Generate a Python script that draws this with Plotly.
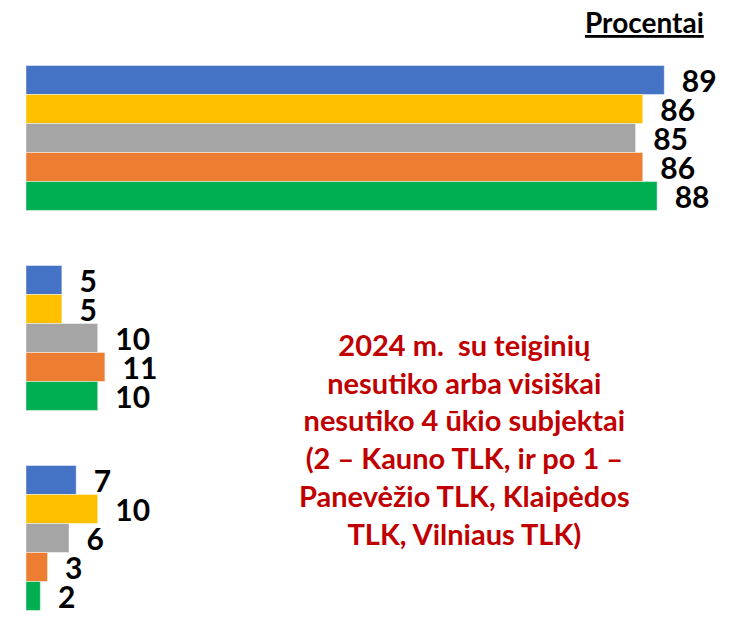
import plotly.graph_objects as go

categories = ["Sutiko / visiškai sutiko", "Nei sutiko, nei nesutiko", "Nesutiko / visiškai nesutiko"]
series_names = ["2020 m.", "2021 m.", "2022 m.", "2023 m.", "2024 m."]
series_values = [
    [89, 5, 7],
    [86, 5, 10],
    [85, 10, 6],
    [86, 11, 3],
    [88, 10, 2],
]
colors = ["#4472C4", "#FFC000", "#A5A5A5", "#ED7D31", "#00B050"]
note_lines = [
    "2024 m.  su teiginių",
    "nesutiko arba visiškai",
    "nesutiko 4 ūkio subjektai",
    "(2 – Kauno TLK, ir po 1 –",
    "Panevėžio TLK, Klaipėdos",
    "TLK, Vilniaus TLK)",
]
unit_label = "Procentai"

FONT = "Lato"

fig = go.Figure()
for name, vals, col in zip(series_names, series_values, colors):
    fig.add_trace(go.Bar(
        y=categories, x=vals, name=name, orientation="h",
        marker=dict(color=col, line=dict(color="rgba(255,255,255,0.45)", width=1)),
        text=["\u00a0\u00a0" + str(v) for v in vals],
        textposition="outside", constraintext="none", cliponaxis=False,
        textfont=dict(family=FONT, size=30, color="black", weight="bold"),
        hoverinfo="x+name",
    ))

fig.update_layout(
    width=732, height=634,
    margin=dict(l=18, r=4, t=30, b=4),
    barmode="group", bargap=0.275, bargroupgap=0,
    plot_bgcolor="white", paper_bgcolor="white",
    showlegend=False,
    font=dict(family=FONT),
    xaxis=dict(range=[0, 99], visible=False),
    yaxis=dict(autorange="reversed", visible=False),
    annotations=[
        dict(text="<b>" + "<br>".join(note_lines) + "</b>", xref="paper", yref="paper",
             x=0.617, y=0.331, xanchor="center", yanchor="middle", showarrow=False,
             align="center", font=dict(family=FONT, size=29, color="#C00000")),
        dict(text="<b><u>" + unit_label + "</u></b>", xref="paper", yref="paper",
             x=0.958, y=1.027, xanchor="right", yanchor="middle", showarrow=False,
             font=dict(family=FONT, size=28, color="black")),
    ],
)

fig.write_html("out.html")
